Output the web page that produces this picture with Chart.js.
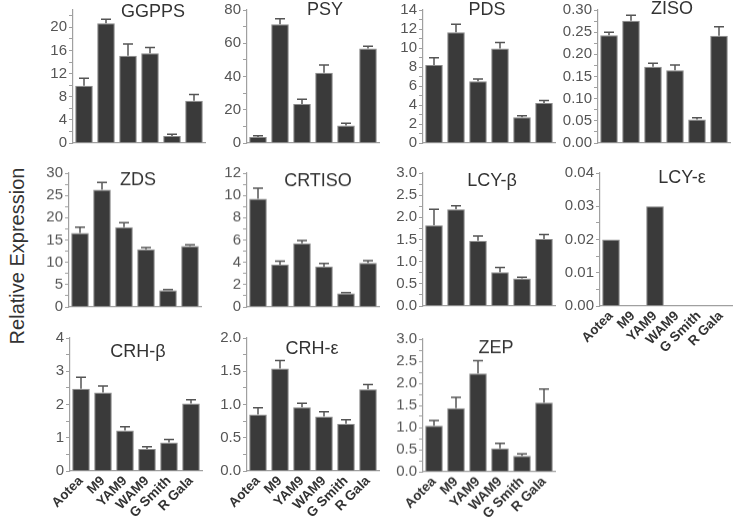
<!DOCTYPE html>
<html>
<head>
<meta charset="utf-8">
<script src="https://cdn.jsdelivr.net/npm/chart.js@4.4.1/dist/chart.umd.min.js"></script>
<style>
html, body { margin: 0; padding: 0; background: #fff; width: 733px; height: 517px; overflow: hidden; position: relative; }
canvas { position: absolute; }
#ylab { position: absolute; left: 17px; top: 256px; transform: translate(-50%, -50%) rotate(-90deg);
        font: 20px "Liberation Sans", Arial, sans-serif; color: #333; white-space: nowrap; }
</style>
</head>
<body>
<div id="ylab">Relative Expression</div>
<script>
// cultivars on every x axis
const categories = ['Aotea', 'M9', 'YAM9', 'WAM9', 'G Smith', 'R Gala'];

// mean and upper error (SE) per gene
const ggpps = [9.9, 20.7, 15.1, 15.5, 1.2, 7.3];
const ggppsErr = [1.3, 0.7, 2.0, 1.0, 0.3, 1.1];
const psy = [3.6, 71.5, 23.5, 42.3, 10.6, 56.8];
const psyErr = [0.7, 3.2, 2.8, 4.6, 1.3, 1.4];
const pds = [8.2, 11.65, 6.5, 9.95, 2.72, 4.2];
const pdsErr = [0.78, 0.85, 0.25, 0.62, 0.14, 0.28];
const ziso = [0.243, 0.276, 0.172, 0.164, 0.053, 0.242];
const zisoErr = [0.007, 0.012, 0.008, 0.012, 0.004, 0.02];
const zds = [16.6, 26.3, 17.9, 12.9, 3.7, 13.65];
const zdsErr = [1.3, 1.6, 1.0, 0.4, 0.2, 0.3];
const crtiso = [9.7, 3.8, 5.7, 3.6, 1.22, 3.94];
const crtisoErr = [0.95, 0.3, 0.25, 0.3, 0.06, 0.2];
const lcyB = [1.82, 2.18, 1.47, 0.76, 0.62, 1.51];
const lcyBErr = [0.36, 0.08, 0.11, 0.11, 0.03, 0.1];
const lcyE = [0.02, 0, 0.03, 0, 0, 0];
const crhB = [2.47, 2.36, 1.22, 0.66, 0.86, 2.03];
const crhBErr = [0.35, 0.2, 0.11, 0.07, 0.09, 0.11];
const crhE = [0.85, 1.54, 0.96, 0.82, 0.71, 1.23];
const crhEErr = [0.1, 0.12, 0.06, 0.07, 0.06, 0.07];
const zep = [1.04, 1.44, 2.22, 0.53, 0.36, 1.56];
const zepErr = [0.12, 0.24, 0.29, 0.11, 0.045, 0.31];

// layout of each small panel (axis x, top/zero y on the page)
const panels = [
    { title: 'GGPPS',  vals: ggpps,  err: ggppsErr,  max: 23,   major: 4,    dec: 0, left: 73,  top: 10,  zero: 143, tx: 80,  ty: 2 },
    { title: 'PSY',    vals: psy,    err: psyErr,    max: 80,   major: 20,   dec: 0, left: 247, top: 9.5, zero: 143, tx: 78,  ty: 0.5 },
    { title: 'PDS',    vals: pds,    err: pdsErr,    max: 14,   major: 2,    dec: 0, left: 423, top: 9.5, zero: 143, tx: 64,  ty: 0.5 },
    { title: 'ZISO',   vals: ziso,   err: zisoErr,   max: 0.30, major: 0.05, dec: 2, left: 598, top: 9.5, zero: 143, tx: 74,  ty: -1 },
    { title: 'ZDS',    vals: zds,    err: zdsErr,    max: 30,   major: 5,    dec: 0, left: 69,  top: 173, zero: 306.5, tx: 69, ty: 7.5 },
    { title: 'CRTISO', vals: crtiso, err: crtisoErr, max: 12,   major: 2,    dec: 0, left: 247, top: 173, zero: 306.5, tx: 71, ty: 8.5 },
    { title: 'LCY-β',  vals: lcyB,   err: lcyBErr,   max: 3,    major: 0.5,  dec: 1, left: 423, top: 173, zero: 306, tx: 69,  ty: 8 },
    { title: 'LCY-ε',  vals: lcyE,   err: null,      max: 0.04, major: 0.01, dec: 2, left: 600, top: 173, zero: 306, tx: 82,  ty: 5, labels: true },
    { title: 'CRH-β',  vals: crhB,   err: crhBErr,   max: 4,    major: 1,    dec: 0, left: 70,  top: 337.5, zero: 471, tx: 68, ty: 14, labels: true },
    { title: 'CRH-ε',  vals: crhE,   err: crhEErr,   max: 2,    major: 0.5,  dec: 1, left: 247, top: 337.5, zero: 471, tx: 65, ty: 11, labels: true },
    { title: 'ZEP',    vals: zep,    err: zepErr,    max: 3,    major: 0.5,  dec: 1, left: 423, top: 339, zero: 471.5, tx: 73, ty: 9, labels: true }
];

const FONT = '"Liberation Sans", Arial, sans-serif';
const YW = 50, PADTOP = 12, PLOTW = 132;

const errorBars = {
    id: 'errorBars',
    afterDatasetsDraw(chart, args, opts) {
        const err = opts.err;
        if (!err) return;
        const meta = chart.getDatasetMeta(0);
        const y = chart.scales.y;
        const c = chart.ctx;
        c.save();
        c.strokeStyle = '#555';
        c.lineWidth = 1.5;
        meta.data.forEach((bar, i) => {
            const v = chart.data.datasets[0].data[i];
            const y0 = y.getPixelForValue(v), y1 = y.getPixelForValue(v + err[i]);
            c.beginPath();
            c.moveTo(bar.x, y0); c.lineTo(bar.x, y1);
            c.moveTo(bar.x - 5, y1); c.lineTo(bar.x + 5, y1);
            c.stroke();
        });
        c.restore();
    }
};

const panelTitle = {
    id: 'panelTitle',
    afterDraw(chart, args, opts) {
        const c = chart.ctx;
        c.save();
        c.font = '18px ' + FONT;
        c.fillStyle = '#333';
        c.textAlign = 'center';
        c.textBaseline = 'middle';
        c.fillText(opts.text, chart.chartArea.left + opts.dx, chart.chartArea.top + opts.dy);
        c.restore();
    }
};

panels.forEach(p => {
    // room under the axis: rotated names, or just enough for the "0" label overhang
    const xh = p.labels ? 62 : 14;
    const cv = document.createElement('canvas');
    const w = YW + PLOTW + 4;
    const h = PADTOP + (p.zero - p.top) + xh;
    cv.width = w; cv.height = h;
    cv.style.width = w + 'px'; cv.style.height = h + 'px';
    cv.style.left = (p.left - YW) + 'px';
    cv.style.top = (p.top - PADTOP) + 'px';
    document.body.appendChild(cv);

    const isMajor = v => Math.abs(v / p.major - Math.round(v / p.major)) < 1e-6;

    new Chart(cv, {
        type: 'bar',
        data: {
            labels: categories,
            datasets: [{
                data: p.vals,
                backgroundColor: '#3a3a3a',
                borderColor: '#8c8c8c',
                borderWidth: 1,
                categoryPercentage: 1,
                barPercentage: 0.8
            }]
        },
        options: {
            responsive: false,
            animation: false,
            layout: { padding: { top: PADTOP, left: 0, right: 4, bottom: 0 } },
            plugins: {
                legend: { display: false },
                tooltip: { enabled: false },
                errorBars: { err: p.err },
                panelTitle: { text: p.title, dx: p.tx, dy: p.ty }
            },
            scales: {
                x: {
                    grid: { display: false, drawTicks: false },
                    border: { display: true, color: '#a0a0a0', width: 1.2 },
                    afterFit: s => { s.height = xh; },
                    ticks: {
                        display: !!p.labels,
                        autoSkip: false,
                        minRotation: 45,
                        maxRotation: 45,
                        padding: 2,
                        color: '#333',
                        font: { family: FONT, size: 13.5, weight: 'bold' }
                    }
                },
                y: {
                    min: 0,
                    max: p.max,
                    afterFit: s => { s.width = YW; },
                    border: { display: true, color: '#a0a0a0', width: 1.2 },
                    grid: {
                        drawOnChartArea: false,
                        tickLength: 4,
                        color: '#a0a0a0'
                    },
                    ticks: {
                        stepSize: p.major / 2,
                        includeBounds: false,
                        autoSkip: false,
                        padding: 2,
                        color: '#555',
                        font: { family: FONT, size: 15 },
                        callback: v => isMajor(v) ? v.toFixed(p.dec) : ''
                    }
                }
            }
        },
        plugins: [errorBars, panelTitle]
    });
});
</script>
</body>
</html>
